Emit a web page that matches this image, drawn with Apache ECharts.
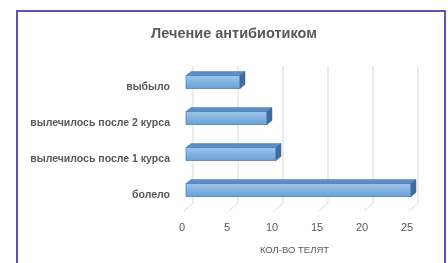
<!DOCTYPE html>
<html>
<head>
<meta charset="utf-8">
<script src="https://cdn.jsdelivr.net/npm/echarts@6/dist/echarts.min.js"></script>
<style>
  html, body { margin: 0; padding: 0; background: #fff; }
  #wrap { position: relative; width: 448px; height: 263px; overflow: hidden; }
  #frame { position: absolute; left: 16px; top: 10px; width: 426px; height: 300px; border: 2px solid #5a54b4; box-sizing: content-box; }
  #chart { position: absolute; left: 0; top: 0; width: 448px; height: 263px; }
</style>
</head>
<body>
<div id="wrap">
  <div id="frame"></div>
  <div id="chart"></div>
</div>
<script>
// данные
var categories = ['болело', 'вылечилось после 1 курса', 'вылечилось после 2 курса', 'выбыло'];
var values = [25, 10, 9, 6];
var tickValues = [0, 5, 10, 15, 20, 25];

var myChart = echarts.init(document.getElementById('chart'));

// псевдо-3D столбики
function renderBar(params, api) {
    var v = api.value(0), c = api.value(1);
    var p0 = api.coord([0, c]);
    var p1 = api.coord([v, c]);
    var h = 13, ox = 4, dx = 5, dy = 4;
    var x0 = p0[0] + ox, x1 = p1[0] + ox, y = p0[1] - 6.5;
    return {
        type: 'group',
        children: [
            {
                type: 'rect',
                shape: { x: x0, y: y, width: x1 - x0, height: h },
                style: {
                    fill: new echarts.graphic.LinearGradient(0, 0, 0, 1, [
                        { offset: 0, color: '#a3c7ea' },
                        { offset: 0.55, color: '#80b1e0' },
                        { offset: 1, color: '#6a9fd6' }
                    ]),
                    stroke: '#4f81bd', lineWidth: 0.8
                }
            },
            {
                type: 'polygon',
                shape: { points: [[x0, y], [x0 + dx, y - dy], [x1 + dx, y - dy], [x1, y]] },
                style: { fill: '#5b8ec4', stroke: '#4a7bb5', lineWidth: 0.5 }
            },
            {
                type: 'polygon',
                shape: { points: [[x1, y], [x1 + dx, y - dy], [x1 + dx, y + h - dy], [x1, y + h]] },
                style: { fill: '#3e6d9f', stroke: '#3a6696', lineWidth: 0.5 }
            }
        ]
    };
}

// сетка с перспективой
function renderGrid(params, api) {
    var cs = params.coordSys;
    var x = api.coord([api.value(0), 0])[0];
    var top = cs.y + 2, floor = cs.y + cs.height - 5;
    return {
        type: 'polyline',
        shape: { points: [[x + 11, top], [x + 11, floor], [x + 2, floor + 8]] },
        style: { fill: null, stroke: '#d9d9d9', lineWidth: 1 },
        silent: true
    };
}

var option = {
    animation: false,
    title: {
        text: 'Лечение антибиотиком',
        left: 229,
        textAlign: 'center',
        top: 21,
        textStyle: { fontFamily: 'Liberation Sans', fontSize: 14.5, fontWeight: 'bold', color: '#595959' }
    },
    grid: { left: 182, right: 41, top: 64, bottom: 55 },
    xAxis: {
        type: 'value',
        min: 0,
        max: 25,
        interval: 5,
        name: 'КОЛ-ВО ТЕЛЯТ',
        nameLocation: 'middle',
        nameGap: 37,
        nameTextStyle: { fontFamily: 'Liberation Sans', fontSize: 9.5, color: '#595959' },
        axisLine: { show: false },
        axisTick: { show: false },
        splitLine: { show: false },
        axisLabel: { margin: 14, fontFamily: 'Liberation Sans', fontSize: 11, color: '#595959' }
    },
    yAxis: {
        type: 'category',
        data: categories,
        axisLine: { show: false },
        axisTick: { show: false },
        axisLabel: {
            margin: 12,
            verticalAlign: 'top',
            fontFamily: 'Liberation Sans',
            fontSize: 10.5,
            fontWeight: 'bold',
            color: '#595959'
        }
    },
    series: [
        {
            type: 'custom',
            renderItem: renderGrid,
            data: tickValues.map(function (t) { return [t]; }),
            encode: { x: 0 },
            z: 1
        },
        {
            type: 'custom',
            renderItem: renderBar,
            data: values.map(function (v, i) { return [v, i]; }),
            encode: { x: 0, y: 1 },
            z: 2
        }
    ]
};
myChart.setOption(option);
</script>
</body>
</html>
